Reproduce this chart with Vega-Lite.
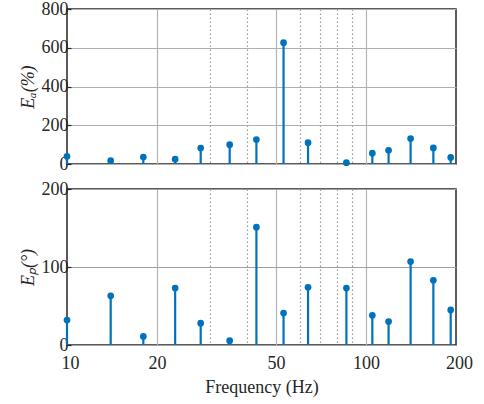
{
  "$schema": "https://vega.github.io/schema/vega-lite/v6.json",
  "padding": {"left": 18, "top": -1, "right": 20, "bottom": 0},
  "spacing": 25,
  "bounds": "flush",
  "datasets": {
    "h": [
      {"f": 10, "a": 40, "p": 32},
      {"f": 14, "a": 17, "p": 63},
      {"f": 18, "a": 36, "p": 11},
      {"f": 23, "a": 25, "p": 73},
      {"f": 28, "a": 82, "p": 28},
      {"f": 35, "a": 100, "p": 5.5},
      {"f": 43, "a": 126, "p": 151},
      {"f": 53, "a": 626, "p": 41},
      {"f": 64, "a": 110, "p": 74},
      {"f": 86, "a": 7, "p": 73},
      {"f": 105, "a": 56, "p": 38},
      {"f": 119, "a": 71, "p": 30},
      {"f": 141, "a": 131, "p": 107},
      {"f": 168, "a": 83, "p": 83},
      {"f": 192, "a": 34, "p": 45}
    ]
  },
  "config": {
    "font": "Liberation Serif",
    "view": {"stroke": "#262626", "strokeWidth": 1.5},
    "axis": {
      "labelFont": "Liberation Serif",
      "titleFont": "Liberation Serif",
      "labelFontSize": 18,
      "titleFontSize": 18,
      "titleFontWeight": "normal",
      "labelColor": "#262626",
      "titleColor": "#262626",
      "labelOverlap": false,
      "labelFlush": false,
      "ticks": false,
      "domain": false,
      "gridColor": "#b0b0b0",
      "gridWidth": 1.2
    }
  },
  "vconcat": [
    {
      "width": 389,
      "height": 155,
      "data": {"name": "h"},
      "encoding": {
        "x": {
          "field": "f", "type": "quantitative",
          "scale": {"type": "log", "domain": [10, 200], "nice": false},
          "axis": {
            "values": [10, 20, 30, 40, 50, 60, 70, 80, 90, 100, 200],
            "labels": false, "title": null, "grid": true,
            "minExtent": 0, "maxExtent": 0,
            "gridDash": {"condition": {"test": "indexof([20,50,100], datum.value) >= 0", "value": []}, "value": [1.5, 2.5]},
            "gridColor": {"condition": {"test": "indexof([20,50,100], datum.value) >= 0", "value": "#b3b3b3"}, "value": "#9a9a9a"},
            "gridOpacity": {"condition": {"test": "datum.value > 10 && datum.value < 200", "value": 1}, "value": 0}
          }
        },
        "y": {
          "field": "a", "type": "quantitative",
          "scale": {"domain": [0, 800], "nice": false},
          "axis": {
            "values": [0, 200, 400, 600, 800],
            "title": "Eₐ(%)", "titleFontStyle": "italic",
            "ticks": true, "tickSize": -4, "tickColor": "#262626", "tickWidth": 1.2,
            "labelPadding": 3, "minExtent": 30, "maxExtent": 30, "titlePadding": 0,
            "grid": true, "gridColor": "#b0b0b0"
          }
        }
      },
      "layer": [
        {
          "mark": {"type": "rule", "color": "#0072BD", "strokeWidth": 2.2},
          "encoding": {"y2": {"datum": 0}}
        },
        {
          "mark": {"type": "point", "filled": true, "opacity": 1, "color": "#0072BD", "size": 45}
        }
      ]
    },
    {
      "width": 389,
      "height": 156,
      "data": {"name": "h"},
      "encoding": {
        "x": {
          "field": "f", "type": "quantitative",
          "scale": {"type": "log", "domain": [10, 200], "nice": false},
          "axis": {
            "values": [10, 20, 30, 40, 50, 60, 70, 80, 90, 100, 200],
            "labelExpr": "indexof([10,20,50,100,200], datum.value) >= 0 ? format(datum.value, 'd') : ''",
            "labelOffset": {"condition": {"test": "datum.value == 10 || datum.value == 200", "value": 3}, "value": 0},
            "title": "Frequency (Hz)", "grid": true,
            "labelPadding": 9, "minExtent": 27, "maxExtent": 27, "titlePadding": 6,
            "gridDash": {"condition": {"test": "indexof([20,50,100], datum.value) >= 0", "value": []}, "value": [1.5, 2.5]},
            "gridColor": {"condition": {"test": "indexof([20,50,100], datum.value) >= 0", "value": "#b3b3b3"}, "value": "#9a9a9a"},
            "gridOpacity": {"condition": {"test": "datum.value > 10 && datum.value < 200", "value": 1}, "value": 0}
          }
        },
        "y": {
          "field": "p", "type": "quantitative",
          "scale": {"domain": [0, 200], "nice": false},
          "axis": {
            "values": [0, 100, 200],
            "title": "Eₚ(°)", "titleFontStyle": "italic",
            "ticks": true, "tickSize": -4, "tickColor": "#262626", "tickWidth": 1.2,
            "labelPadding": 3, "minExtent": 30, "maxExtent": 30, "titlePadding": 0,
            "grid": true, "gridColor": "#a0a0a0"
          }
        }
      },
      "layer": [
        {
          "mark": {"type": "rule", "color": "#0072BD", "strokeWidth": 2.2},
          "encoding": {"y2": {"datum": 0}}
        },
        {
          "mark": {"type": "point", "filled": true, "opacity": 1, "color": "#0072BD", "size": 45}
        }
      ]
    }
  ]
}
